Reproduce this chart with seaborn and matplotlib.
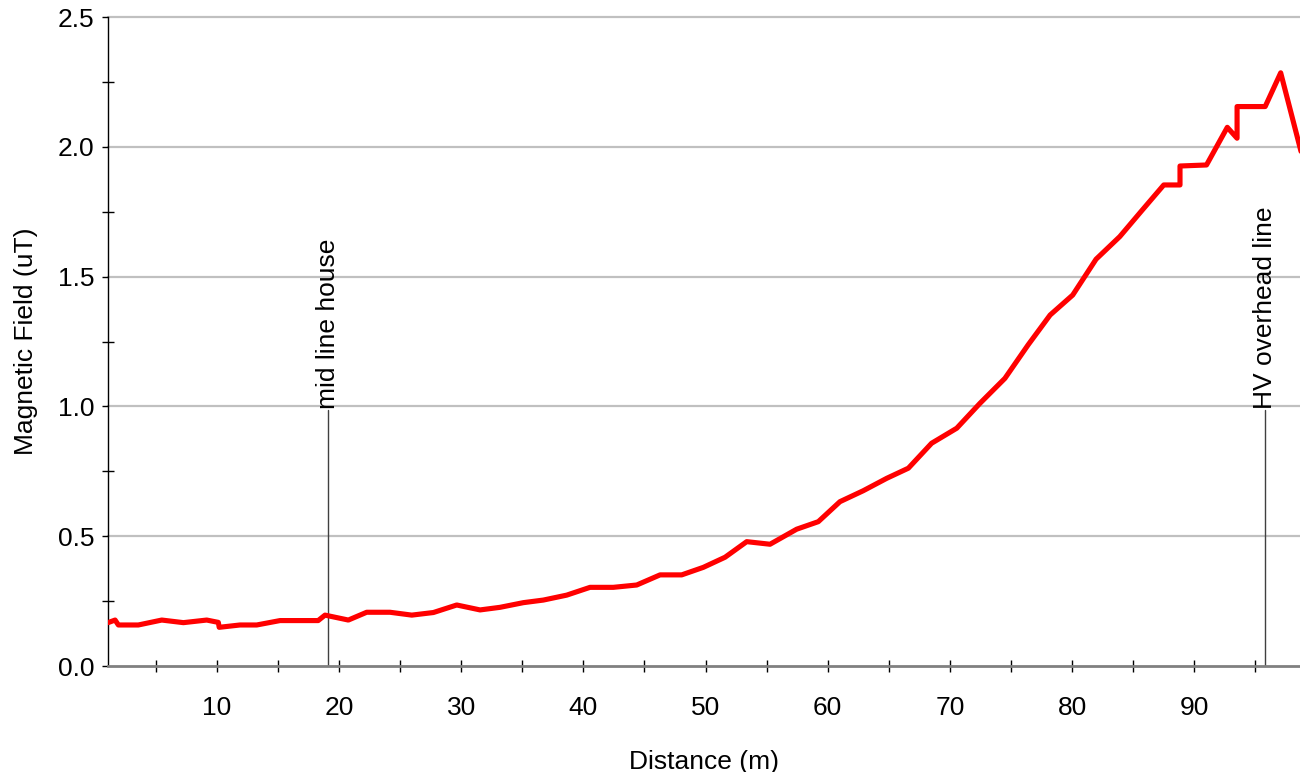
import matplotlib
matplotlib.use("Agg")
import matplotlib.pyplot as plt
import seaborn as sns
import pandas as pd
from matplotlib.ticker import FixedLocator

distance_m = [1.1, 1.68, 1.95, 3.58, 5.5, 7.27, 9.18, 10.13, 10.2, 11.9, 13.27, 15.18,
              18.3, 18.86, 20.77, 22.27, 24.18, 25.96, 27.73, 29.64, 31.55, 33.18, 35.09,
              36.73, 38.64, 40.55, 42.45, 44.37, 46.28, 48.05, 49.82, 51.6, 53.37, 55.28,
              57.46, 59.23, 61.0, 62.9, 64.83, 66.6, 68.5, 70.56, 72.46, 74.5, 76.4, 78.2,
              80.05, 81.96, 83.9, 85.7, 87.5, 88.83, 88.83, 91.0, 92.7, 93.5, 93.5, 95.8,
              97.07, 98.8]
field_uT = [0.167, 0.177, 0.158, 0.158, 0.177, 0.167, 0.177, 0.168, 0.149, 0.158, 0.158,
            0.175, 0.175, 0.196, 0.177, 0.207, 0.207, 0.196, 0.206, 0.235, 0.216, 0.226,
            0.244, 0.254, 0.273, 0.303, 0.303, 0.312, 0.351, 0.351, 0.380, 0.419, 0.479,
            0.469, 0.527, 0.556, 0.633, 0.675, 0.723, 0.762, 0.858, 0.916, 1.012, 1.108,
            1.237, 1.352, 1.429, 1.567, 1.654, 1.754, 1.853, 1.853, 1.926, 1.930, 2.075,
            2.033, 2.155, 2.155, 2.285, 1.97]

marker_pos = [19.1, 95.8]
marker_labels = ["mid line house", "HV overhead line"]
marker_top = 0.985

x_ticks = [10, 20, 30, 40, 50, 60, 70, 80, 90]
x_minor = [5, 15, 25, 35, 45, 55, 65, 75, 85, 95]
y_ticks = [0.0, 0.5, 1.0, 1.5, 2.0, 2.5]
y_minor = [0.25, 0.75, 1.25, 1.75, 2.25]

sns.set_style("white")
plt.rcParams['font.family'] = ['Liberation Sans', 'DejaVu Sans']
plt.rcParams['text.color'] = 'black'
plt.rcParams['axes.labelcolor'] = 'black'
plt.rcParams['xtick.color'] = 'black'
plt.rcParams['ytick.color'] = 'black'

df = pd.DataFrame({"Distance (m)": distance_m, "Magnetic Field (uT)": field_uT})

fig = plt.figure(figsize=(13, 7.72), dpi=100)
ax = fig.add_axes([108/1300, 106/772, 1 - 108/1300, (666-17)/772])

ax.set_xlim(1.1, 98.65)
ax.set_ylim(0, 2.5)

for yv in y_ticks[1:]:
    ax.axhline(yv, color="#c0c0c0", lw=1.6, zorder=0, clip_on=False)

sns.lineplot(data=df, x="Distance (m)", y="Magnetic Field (uT)", sort=False,
             estimator=None, color="#ff0000", lw=3.7, ax=ax, zorder=3)

for xp, lab in zip(marker_pos, marker_labels):
    ax.plot([xp, xp], [0, marker_top], color="#404040", lw=1.0, zorder=2)
    ax.text(xp, marker_top + 0.005, lab, rotation=90, ha="center", va="bottom",
            fontsize=19, color="black")

ax.xaxis.set_major_locator(FixedLocator(x_ticks))
ax.xaxis.set_minor_locator(FixedLocator(x_minor))
ax.yaxis.set_major_locator(FixedLocator(y_ticks))
ax.yaxis.set_minor_locator(FixedLocator(y_minor))
ax.set_xticklabels([str(t) for t in x_ticks])
ax.set_yticklabels([f"{t:.1f}" for t in y_ticks])

ax.tick_params(axis="x", which="both", bottom=True, direction="inout", length=9,
               width=1, color="black", labelcolor="black", labelsize=19, pad=17)
ax.tick_params(axis="y", which="major", left=True, direction="out", length=4,
               width=1, color="black", labelcolor="black", labelsize=19, pad=6)
ax.tick_params(axis="y", which="minor", left=True, direction="inout", length=9,
               width=1, color="black")

for s in ["top", "right"]:
    ax.spines[s].set_visible(False)
ax.spines["left"].set_color("black")
ax.spines["left"].set_linewidth(1.0)
ax.spines["bottom"].set_color("#808080")
ax.spines["bottom"].set_linewidth(2.0)

ax.set_xlabel("Distance (m)", fontsize=19, labelpad=22, color="black")
ax.set_ylabel("Magnetic Field (uT)", fontsize=19, labelpad=14, color="black")

fig.savefig("out.png", dpi=100)
